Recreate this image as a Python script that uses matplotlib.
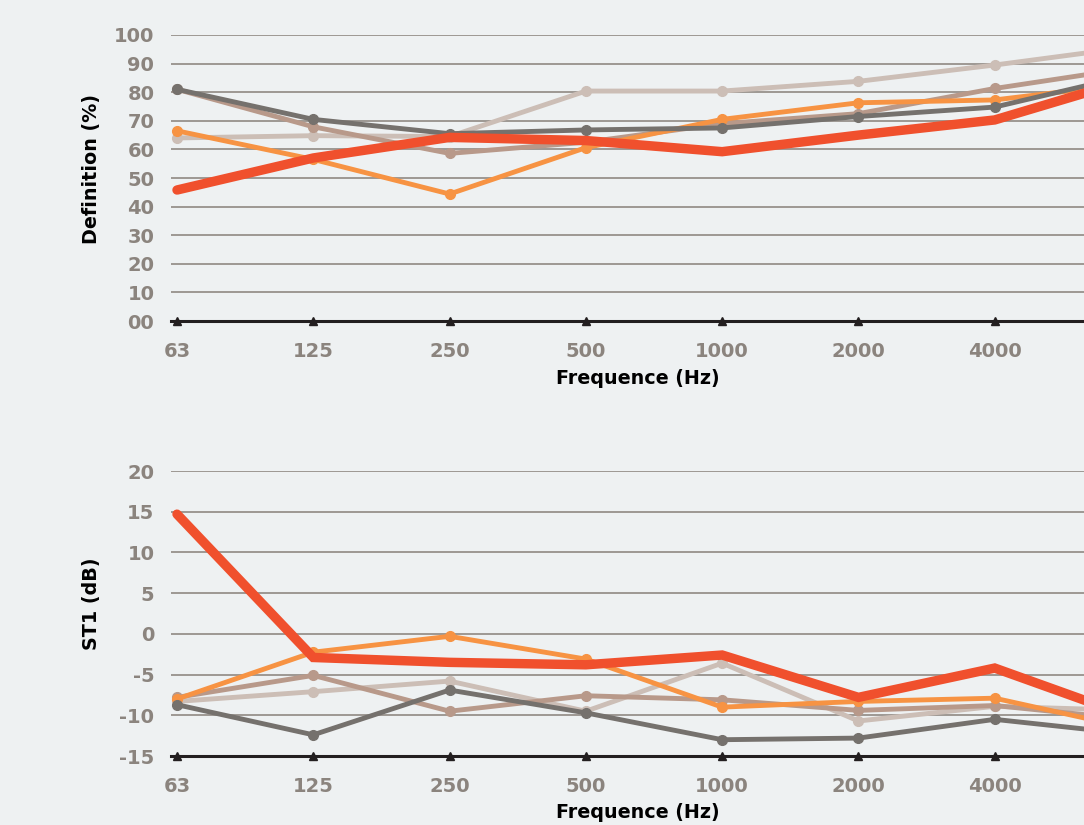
import matplotlib
matplotlib.use("Agg")
import matplotlib.pyplot as plt
import numpy as np

# ---------------- data ----------------
freqs = ["63", "125", "250", "500", "1000", "2000", "4000", "8000"]

def_dark = [81.0, 70.5, 65.5, 66.8, 67.5, 71.5, 74.8, 86.0]
def_brown = [81.0, 67.9, 58.6, 62.5, 69.0, 72.5, 81.3, 88.5]
def_light = [64.0, 64.8, 64.5, 80.4, 80.4, 83.8, 89.5, 95.8]
def_orange = [66.5, 56.5, 44.4, 60.6, 70.5, 76.3, 77.3, 83.0]
def_red = [45.8, 57.0, 64.2, 63.1, 59.2, 65.0, 70.3, 84.5]

st_dark = [-8.7, -12.4, -6.9, -9.7, -13.0, -12.8, -10.5, -12.3]
st_brown = [-7.8, -5.1, -9.5, -7.6, -8.1, -9.4, -8.8, -10.5]
st_light = [-8.3, -7.1, -5.8, -9.5, -3.6, -10.7, -8.9, -9.4]
st_orange = [-8.0, -2.25, -0.3, -3.1, -9.0, -8.3, -7.9, -11.6]
st_red = [14.7, -2.9, -3.5, -3.8, -2.6, -7.8, -4.2, -10.2]

top_yticks = [0, 10, 20, 30, 40, 50, 60, 70, 80, 90, 100]
top_yticklabels = ["00", "10", "20", "30", "40", "50", "60", "70", "80", "90", "100"]
bot_yticks = [-15, -10, -5, 0, 5, 10, 15, 20]
bot_yticklabels = ["-15", "-10", "-5", "0", "5", "10", "15", "20"]

# ---------------- style ----------------
BG = "#eef1f2"
C_DARK = "#75716d"
C_BROWN = "#b8998a"
C_LIGHT = "#ccbeb6"
C_ORANGE = "#f79343"
C_RED = "#f0502d"
TICK_C = "#8b847e"
GRID_C = "#9d9893"

plt.rcParams['font.family'] = ['DejaVu Sans']

fig = plt.figure(figsize=(10.84, 8.25), dpi=100, facecolor=BG)

W, H = 1084.0, 825.0
left_px, right_px = 171.0, 1137.0

def make_ax(top_px, bot_px):
    return fig.add_axes([left_px / W, 1 - bot_px / H, (right_px - left_px) / W, (bot_px - top_px) / H])

ax1 = make_ax(35, 321)
ax2 = make_ax(471, 756)

x = np.arange(len(freqs))
pad = 6.0 / 136.3
# the last category lies beyond the visible right edge, as in the reference
visible_labels = freqs[:-1] + [""]

def style(ax, yticks, yticklabels, ylo, yhi, series, ylabel, ylabel_y):
    ax.set_facecolor(BG)
    ax.set_xlim(-pad, len(freqs) - 1 + pad)
    ax.set_ylim(ylo, yhi)
    for y in yticks[1:]:
        ax.axhline(y, color=GRID_C, lw=1.4, zorder=1)
    ax.axhline(ylo, color="#231f20", lw=2.2, zorder=2, clip_on=False)
    ax.plot(x, [ylo] * len(x), linestyle="none", marker="^", ms=5.5,
            color="#231f20", zorder=3, clip_on=False)
    for s in ax.spines.values():
        s.set_visible(False)
    ax.set_yticks(yticks)
    ax.set_yticklabels(yticklabels)
    ax.set_xticks(x)
    ax.set_xticklabels(visible_labels)
    ax.tick_params(axis="y", length=0, pad=12, labelsize=14, labelcolor=TICK_C)
    ax.tick_params(axis="x", length=0, pad=15, labelsize=14, labelcolor=TICK_C)
    for lab in ax.get_xticklabels() + ax.get_yticklabels():
        lab.set_fontweight("bold")
    # draw order: light, brown, orange, dark, red
    ax.plot(x, series[2], color=C_LIGHT, lw=3.5, marker="o", ms=7, zorder=4, clip_on=False)
    ax.plot(x, series[1], color=C_BROWN, lw=3.5, marker="o", ms=7, zorder=5, clip_on=False)
    ax.plot(x, series[3], color=C_ORANGE, lw=3.5, marker="o", ms=7, zorder=6, clip_on=False)
    ax.plot(x, series[0], color=C_DARK, lw=3.5, marker="o", ms=7, zorder=7, clip_on=False)
    ax.plot(x, series[4], color=C_RED, lw=6.8, solid_capstyle="round",
            solid_joinstyle="miter", zorder=8, clip_on=False)
    fig.text(91 / W, 1 - ylabel_y / H, ylabel, rotation=90, ha="center", va="center",
             fontsize=13.8, fontweight="bold", color="black")

style(ax1, top_yticks, top_yticklabels, 0, 100,
      [def_dark, def_brown, def_light, def_orange, def_red], "Definition (%)", 169)
style(ax2, bot_yticks, bot_yticklabels, -15, 20,
      [st_dark, st_brown, st_light, st_orange, st_red], "ST1 (dB)", 604)

fig.text(638 / W, 1 - 378 / H, "Frequence (Hz)", ha="center", va="center",
         fontsize=13.8, fontweight="bold", color="black")
fig.text(638 / W, 1 - 813 / H, "Frequence (Hz)", ha="center", va="center",
         fontsize=13.8, fontweight="bold", color="black")

fig.savefig("out.png", dpi=100, facecolor=BG)
